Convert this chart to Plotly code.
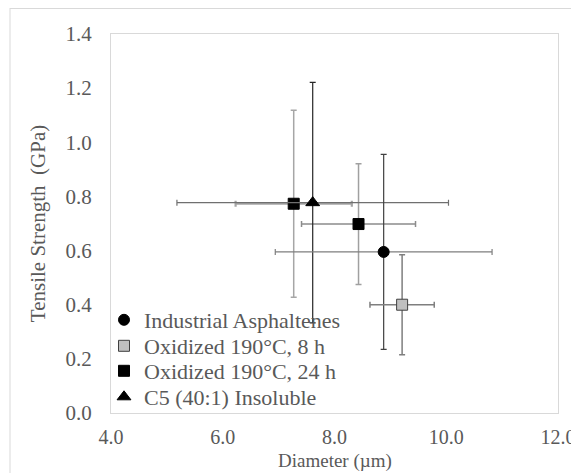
import plotly.graph_objects as go

# Data
names = ["Industrial Asphaltenes", "Oxidized 190°C, 8 h", "Oxidized 190°C, 24 h", "Oxidized 190°C, 24 h (2)", "C5 (40:1) Insoluble"]
diam = [8.88, 9.21, 7.27, 8.43, 7.61]
diam_err = [1.94, 0.575, 1.04, 1.02, 2.43]
strength = [0.595, 0.40, 0.773, 0.698, 0.777]
strength_err = [0.36, 0.185, 0.345, 0.223, 0.444]
in_legend = [True, True, True, False, True]
legend_slot = [0, 1, 2, None, 3]

symbols = ["circle", "square", "square", "square", "triangle-up"]
fills = ["#000000", "#bfbfbf", "#000000", "#000000", "#000000"]
lines = ["#000000", "#404040", "#000000", "#000000", "#000000"]
xerr_col = ["#7f7f7f", "#7f7f7f", "#a6a6a6", "#8c8c8c", "#6f6f6f"]
xerr_w = [1.2, 1.5, 2.2, 1.5, 1.2]
yerr_col = ["#404040", "#7f7f7f", "#a6a6a6", "#a0a0a0", "#262626"]
yerr_w = [1.2, 1.5, 1.5, 1.5, 1.2]

x_ticks = [4.0, 6.0, 8.0, 10.0, 12.0]
y_ticks = [0.0, 0.2, 0.4, 0.6, 0.8, 1.0, 1.2, 1.4]

font_family = '"Liberation Serif", "Times New Roman", Times, serif'
gray_txt = "#595959"

# page has an 8px body margin: work in page pixels, convert to figure pixels
OFF = 8
W, H = 579, 473
plot_l, plot_r, plot_t, plot_b = 111, 558, 34, 413  # page pixels
ml, mt = plot_l - OFF, plot_t - OFF
mr = W - (plot_r - OFF)
mb = H - (plot_b - OFF)
pw, ph = plot_r - plot_l, plot_b - plot_t

def px_x(p):
    return (p - plot_l) / pw

def px_y(p):
    return 1 - (p - plot_t) / ph

legend_ids = ["legend", "legend2", "legend3", "legend4"]
legend_rows_px = [320, 346, 371, 397]

fig = go.Figure()
order = [2, 3, 4, 0, 1]
for i in order:
    slot = legend_slot[i]
    fig.add_trace(go.Scatter(
        x=[diam[i]], y=[strength[i]], mode="markers", name=names[i],
        showlegend=in_legend[i],
        legend=legend_ids[slot] if slot is not None else "legend",
        marker=dict(symbol=symbols[i], size=11 if symbols[i] != "triangle-up" else 12,
                    color=fills[i], line=dict(color=lines[i], width=1)),
        error_x=dict(type="data", array=[diam_err[i]], color=xerr_col[i], thickness=xerr_w[i], width=3),
        error_y=dict(type="data", array=[strength_err[i]], color=yerr_col[i], thickness=yerr_w[i], width=3),
    ))

legend_layouts = {}
for k, lid in enumerate(legend_ids):
    legend_layouts[lid] = dict(
        x=px_x(104), y=px_y(legend_rows_px[k]), xanchor="left", yanchor="middle",
        bgcolor="rgba(0,0,0,0)", font=dict(family=font_family, size=22, color=gray_txt),
        itemwidth=30, borderwidth=0,
    )

fig.update_layout(
    width=W, height=H,
    margin=dict(l=ml, r=mr, t=mt, b=mb, pad=0),
    paper_bgcolor="white", plot_bgcolor="white",
    font=dict(family=font_family, size=20, color=gray_txt),
    xaxis=dict(range=[4, 12], tickvals=x_ticks, ticktext=[f"{v:.1f}" for v in x_ticks],
               showgrid=False, zeroline=False, showline=True, linecolor="#d9d9d9", linewidth=1,
               mirror=True, ticks="", ticklabelstandoff=6,
               tickfont=dict(family=font_family, size=20, color=gray_txt)),
    yaxis=dict(range=[0, 1.4], tickvals=y_ticks, ticktext=[f"{v:.1f}" for v in y_ticks],
               showgrid=False, zeroline=False, showline=True, linecolor="#d9d9d9", linewidth=1,
               mirror=True, ticks="", ticklabelstandoff=14,
               tickfont=dict(family=font_family, size=21, color=gray_txt),
               title=dict(text="Tensile Strength  (GPa)", standoff=14, font=dict(family=font_family, size=21, color=gray_txt))),
    annotations=[dict(text="Diameter (µm)", xref="paper", yref="paper", x=0.5, y=px_y(474),
                      xanchor="center", yanchor="bottom", showarrow=False,
                      font=dict(family=font_family, size=19, color=gray_txt))],
    shapes=[
        dict(type="line", xref="paper", yref="paper", x0=px_x(10), x1=px_x(W + 20), y0=px_y(OFF + 0.5), y1=px_y(OFF + 0.5),
             line=dict(color="#d9d9d9", width=1)),
        dict(type="line", xref="paper", yref="paper", x0=px_x(10), x1=px_x(10), y0=px_y(OFF), y1=px_y(H + 20),
             line=dict(color="#d9d9d9", width=1)),
    ],
    **legend_layouts,
)

fig.write_html("out.html")
